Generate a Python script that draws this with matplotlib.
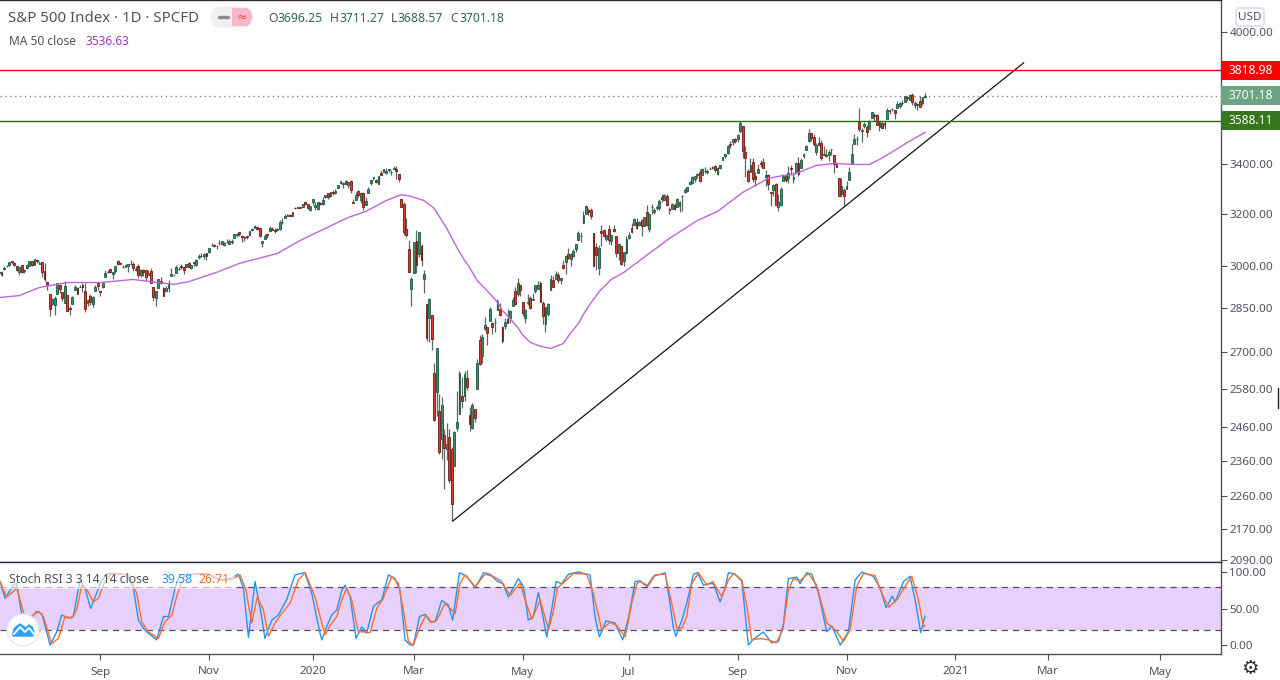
import matplotlib
matplotlib.use("Agg")
import matplotlib.pyplot as plt
from matplotlib.patches import Rectangle, Circle, FancyBboxPatch, Ellipse

plt.rcParams['font.family'] = ['Noto Sans', 'DejaVu Sans']

# daily bars, 8 Jul 2019 to 16 Dec 2020, one line per month
opens = [
	2980,2966,2989,2999,3003,3018,3012,3000,2979,3004,2982,2994,3000,3019,3004,3023,3008,3017,
	2981,2943,2899,2862,2859,2897,2931,2907,2865,2895,2849,2864,2913,2919,2923,2930,2911,2866,2893,2862,2911,2938,
	2909,2924,2960,2980,2989,2971,2981,3019,3012,2996,2996,3001,3007,3008,2984,3002,2968,2985,2985,2967,
	2983,2925,2885,2919,2944,2920,2911,2919,2963,2966,2974,2989,3001,2997,2997,3011,2994,3014,3004,3033,3036,3039,3047,
	3051,3078,3080,3075,3087,3081,3080,3089,3084,3090,3107,3118,3127,3114,3109,3112,3118,3136,3146,3147,
	3143,3087,3103,3120,3134,3141,3135,3136,3141,3167,3183,3195,3195,3192,3223,3226,3225,3227,3247,3240,3215,
	3245,3226,3218,3241,3238,3267,3281,3271,3285,3283,3303,3323,3321,3330,3316,3333,3248,3255,3289,3256,3282,
	3235,3281,3324,3344,3335,3318,3365,3370,3365,3378,3369,3380,3380,3360,3258,3238,3140,3063,2917,
	2975,3096,3046,3076,2954,2864,2814,2825,2631,2570,2509,2426,2437,2394,2432,2394,2345,2458,2501,2556,2558,2614,
	2499,2459,2515,2578,2738,2685,2777,2782,2805,2796,2799,2843,2846,2784,2787,2810,2813,2855,2909,2900,2931,
	2870,2815,2868,2883,2879,2908,2915,2939,2865,2794,2829,2914,2948,2953,2969,2948,3004,3015,3046,3026,
	3038,3064,3098,3112,3163,3199,3213,3213,3123,3072,2994,3131,3136,3101,3140,3094,3139,3114,3047,3074,3018,3050,
	3106,3144,3156,3166,3154,3176,3152,3205,3142,3226,3208,3224,3224,3268,3254,3271,3218,3219,3235,3227,3231,3270,
	3288,3289,3318,3323,3340,3357,3370,3355,3372,3368,3380,3387,3392,3360,3386,3419,3435,3449,3486,3495,3509,
	3507,3543,3564,3453,3371,3370,3412,3353,3364,3407,3411,3346,3357,3285,3295,3320,3226,3236,3333,3350,3342,
	3385,3339,3367,3408,3384,3434,3459,3500,3534,3515,3453,3493,3493,3439,3439,3439,3464,3441,3404,3342,3277,3293,
	3297,3337,3407,3486,3508,3583,3544,3563,3562,3552,3601,3611,3612,3559,3580,3567,3594,3635,3638,3634,
	3645,3654,3669,3670,3694,3683,3705,3659,3656,3675,3667,3696.25,
]
highs = [
	2981,2981,3002,3003,3014,3017,3015,3002,2996,3005,2990,3006,3019,3017,3028,3025,3018,3017,
	3013,2945,2899,2885,2892,2938,2931,2907,2944,2895,2856,2893,2932,2923,2931,2939,2939,2880,2899,2890,2930,2941,
	2914,2938,2985,2985,2989,2979,3000,3021,3017,3003,3006,3007,3022,3017,2999,3007,2990,2988,2987,2984,
	2992,2925,2911,2953,2959,2925,2929,2949,2993,2972,3003,2998,3008,2998,3007,3014,3005,3016,3027,3044,3047,3050,3047,
	3066,3085,3084,3079,3098,3094,3089,3103,3102,3103,3121,3124,3128,3119,3112,3113,3133,3143,3154,3150,
	3145,3094,3120,3120,3150,3149,3143,3143,3176,3182,3198,3198,3199,3208,3226,3228,3226,3240,3248,3240,3231,
	3258,3247,3246,3245,3268,3276,3283,3288,3295,3298,3317,3330,3329,3337,3326,3334,3259,3285,3293,3286,3283,
	3268,3306,3337,3347,3341,3352,3375,3382,3385,3381,3375,3393,3393,3360,3259,3247,3182,3097,2960,
	3091,3137,3130,3084,2985,2863,2883,2825,2661,2711,2563,2553,2454,2472,2454,2400,2449,2572,2638,2616,2635,2641,
	2522,2534,2515,2677,2757,2760,2819,2783,2852,2802,2816,2880,2868,2785,2816,2844,2842,2888,2922,2955,2931,
	2870,2844,2898,2891,2901,2932,2945,2945,2875,2853,2865,2968,2964,2981,2979,2957,3021,3036,3068,3049,
	3062,3082,3131,3128,3212,3233,3223,3223,3123,3088,3079,3154,3142,3121,3156,3118,3155,3115,3086,3074,3054,3112,
	3128,3165,3183,3183,3172,3180,3186,3235,3200,3238,3221,3233,3259,3278,3280,3280,3228,3242,3243,3264,3251,3273,
	3302,3306,3331,3352,3352,3364,3381,3387,3388,3381,3388,3395,3399,3390,3399,3432,3444,3482,3501,3510,3514,
	3528,3588,3564,3479,3380,3425,3425,3368,3402,3419,3429,3376,3362,3285,3320,3323,3279,3306,3360,3361,3393,
	3397,3370,3409,3432,3427,3447,3482,3550,3534,3528,3492,3515,3502,3476,3465,3461,3466,3441,3409,3342,3342,3304,
	3331,3389,3486,3529,3521,3646,3558,3581,3569,3593,3628,3624,3620,3585,3582,3589,3643,3635,3644,3634,
	3678,3670,3683,3699,3698,3709,3712,3678,3665,3698,3695,3711.27,
]
lows = [
	2970,2964,2985,2995,3001,3008,3002,2982,2968,2975,2976,2988,2999,3001,3004,3013,3007,2959,
	2945,2914,2822,2861,2825,2897,2902,2874,2865,2840,2825,2864,2913,2899,2923,2906,2834,2856,2860,2853,2911,2914,
	2891,2921,2960,2976,2973,2953,2975,3003,3006,2992,2996,2979,3003,2982,2982,2957,2961,2963,2945,2967,
	2938,2874,2855,2919,2936,2892,2907,2907,2963,2962,2974,2985,2991,2971,2995,2995,2991,3000,3001,3028,3034,3026,3023,
	3050,3074,3070,3065,3080,3079,3075,3087,3082,3084,3105,3109,3113,3091,3093,3101,3118,3132,3143,3138,
	3110,3070,3103,3104,3134,3135,3123,3134,3138,3158,3183,3191,3191,3192,3217,3222,3223,3227,3234,3217,3212,
	3235,3214,3215,3233,3236,3263,3260,3268,3276,3280,3302,3318,3302,3320,3302,3281,3241,3255,3268,3243,3214,
	3235,3281,3313,3334,3323,3318,3355,3370,3360,3367,3356,3379,3338,3328,3225,3119,3108,2977,2856,
	2976,2976,3034,2999,2902,2735,2734,2707,2478,2493,2381,2367,2281,2364,2296,2192,2345,2450,2500,2520,2541,2575,
	2448,2456,2475,2578,2657,2664,2772,2722,2805,2760,2767,2843,2821,2728,2776,2797,2798,2855,2860,2891,2892,
	2821,2798,2860,2844,2876,2902,2915,2869,2793,2767,2821,2914,2922,2953,2938,2933,2988,2970,3028,2999,
	3032,3052,3098,3090,3163,3197,3193,3181,2999,2984,2966,3076,3108,3094,3083,3078,3127,3033,3024,3005,2999,3044,
	3101,3125,3156,3142,3152,3115,3152,3152,3127,3200,3198,3213,3216,3248,3253,3229,3198,3219,3216,3227,3205,3211,
	3284,3287,3318,3319,3329,3344,3328,3355,3363,3362,3379,3379,3370,3355,3380,3419,3425,3444,3468,3484,3493,
	3494,3535,3427,3349,3329,3370,3329,3310,3364,3389,3385,3310,3293,3230,3270,3233,3209,3229,3333,3327,3323,
	3362,3323,3367,3354,3384,3426,3459,3496,3500,3480,3441,3482,3420,3439,3433,3415,3441,3364,3388,3269,3265,3234,
	3297,3337,3405,3486,3484,3543,3495,3557,3518,3552,3601,3588,3567,3544,3556,3553,3594,3617,3630,3594,
	3645,3645,3658,3670,3678,3679,3660,3644,3634,3647,3659,3688.57,
]
closes = [
	2976,2980,2993,2999,3014,3014,3004,2984,2995,2977,2985,3005,3019,3003,3025,3020,3013,2980,
	2953,2932,2844,2881,2883,2938,2918,2883,2926,2840,2847,2889,2923,2900,2924,2922,2847,2878,2869,2887,2924,2926,
	2906,2937,2976,2978,2978,2979,3000,3009,3007,2997,3005,3006,3006,2992,2991,2966,2984,2977,2961,2976,
	2940,2887,2910,2952,2938,2893,2919,2938,2970,2966,2995,2989,2997,2986,3006,2995,3004,3010,3022,3039,3036,3046,3037,
	3066,3078,3074,3076,3085,3093,3087,3091,3094,3096,3120,3122,3120,3108,3104,3110,3133,3140,3153,3141,
	3113,3094,3113,3117,3145,3135,3132,3142,3169,3169,3191,3192,3191,3205,3221,3224,3223,3240,3240,3221,3231,
	3258,3235,3246,3237,3253,3275,3265,3288,3283,3289,3317,3330,3321,3321,3326,3295,3244,3276,3273,3284,3226,
	3249,3298,3334,3346,3328,3352,3358,3379,3374,3380,3370,3386,3373,3338,3226,3128,3116,2979,2954,
	3090,3003,3130,3024,2972,2747,2882,2741,2481,2711,2386,2529,2398,2409,2305,2237,2447,2475,2630,2541,2627,2585,
	2471,2527,2489,2664,2659,2750,2790,2762,2846,2783,2800,2875,2823,2737,2799,2798,2837,2878,2863,2940,2912,
	2830,2842,2868,2848,2881,2930,2930,2870,2820,2852,2864,2954,2923,2972,2949,2955,2992,3036,3030,3044,
	3056,3081,3123,3112,3194,3232,3207,3190,3002,3041,3067,3125,3114,3117,3098,3118,3131,3050,3084,3009,3053,3100,
	3116,3130,3179,3145,3169,3152,3185,3155,3197,3227,3215,3225,3251,3257,3276,3236,3215,3239,3218,3258,3246,3271,
	3295,3306,3327,3349,3351,3360,3333,3380,3373,3373,3382,3389,3375,3385,3397,3431,3443,3478,3484,3508,3500,
	3527,3580,3455,3426,3331,3398,3339,3340,3383,3401,3385,3357,3319,3281,3315,3236,3246,3298,3351,3335,3363,
	3380,3348,3408,3360,3419,3446,3477,3534,3511,3488,3483,3483,3426,3443,3436,3453,3465,3400,3390,3271,3310,3270,
	3310,3370,3443,3510,3509,3550,3545,3572,3537,3585,3627,3610,3568,3582,3558,3577,3635,3629,3638,3622,
	3662,3669,3666,3699,3692,3702,3673,3668,3663,3647,3695,3701.18,
]

ma_bars = [0,8,16,27,40,53,60,69,75,86,95,110,119,138,145,153,159,162.5,168,172,174.3,177,179,181,183.4,186,189,191.7,194,196.8,199,202,205,207,210,213.9,218,223,225.7,229,231.2,234,237.5,242,247,256,265,276,284,294,304,310,314,323,330,338,344,348,352,359,366]
ma_vals = [2886,2893,2922,2940,2940,2951,2943,2933,2943,2977,3010,3047,3096,3185,3209,3252,3276,3270,3252,3221,3185,3142,3105,3070,3030,2995,2947,2922,2900,2872,2840,2812,2782,2756,2731,2718,2711,2727,2760,2795,2830,2868,2910,2951,2977,3040,3104,3173,3209,3285,3342,3354,3358,3396,3404,3400,3400,3421,3446,3493,3536.63]

k_bars = [0.4,2.4,5.7,7,9,11.6,13.6,14.9,16.9,20.2,22.8,24.8,27.4,29.4,32,34,36.2,38.6,40.6,43.2,45.9,50.5,53.1,55.1,57.7,62.3,65,67,69.6,71.5,76.8,82.1,87.4,91.3,94.6,96.6,98.6,101.2,103.8,105.1,107.8,110.4,113.7,117,120.9,123.6,126.9,
	127.6,129.5,131.5,133.5,135.5,136.8,138.8,141.1,143.4,145.3,148,151.3,153.9,156.5,158.5,160.5,162.5,163.8,166.2,168.4,170.4,172.4,175,177.6,179.3,182,184.9,188.2,191.5,194.1,196.7,199.1,201.3,205.3,207.3,209.2,211.2,213.2,216.5,218.5,220.2,222.4,225.1,229,233.6,235.6,237.3,239.9,243.5,246.5,248.8,251.4,253.4,
	256,258.7,263.3,264.6,266.6,267.5,269.9,271.8,274.5,276.1,278.4,280.4,282.4,285,287,288.3,291,293.6,296.2,298.2,302.1,305.4,308.1,310.1,312,315.3,316.6,319.3,321.3,323.9,327.2,329.2,332.5,335.7,338.4,341,345.6,348.3,350.6,353.1,354.2,357.5,360.1,362.1,364.3,366]
k_vals = [87,64,82,84.5,41,30,41,46,43,0,18,41,37,39,89,78,50,71,89,98,98,96,78,34,20,7,39,39,78,96,97,98,89,91,97,78,10.5,87,39,9,34,41,62,96,99,71,16,
	7,25,41,48,75,82,66,9,25,16,53,62,96,91,75,7,0,0,39,42,32,32,61,55,34,99,94,78,99,97,88,84,66,91,80,34,39,72,11,50,87,84,97,100,96,39,11,33,30,7,37,87,88,
	80,94,99,71,23,12,34,57,97,99,82,84,84,59,78,99,97,87,0,8,18,3,5,30,91,93,84,99,97,71,18,26,0,18,89,100,94,78,51,67,59,87,94,62,17,39.58]
d_bars = [0.4,3,5,7,8.3,10.3,13.6,15.6,17.5,20.8,23.5,26.1,28.7,30.7,32.7,34.9,37.3,39.3,41.5,43.9,46.5,51.1,54.4,56.4,59,63,65.6,68.3,70.2,72.9,77.5,82.7,88,92,95.3,97.6,99.9,102.1,104.5,106.5,109.1,111.7,115,118.3,121,124.9,126.9,
	128.9,130.9,133.5,135.5,137.4,139.4,142,144,146.7,149.3,151.9,155.2,157.9,159.8,161.8,163.8,166.4,168.8,171,173,176.3,178.9,180.3,182.2,184.2,188.2,192.1,195.4,198.7,202,206,207.9,210.6,213.9,217.2,219.1,220.7,223.7,227,232.3,234.9,238.2,241.5,244.2,247.5,250.1,252.1,253.4,
	256.7,259.3,263.3,265.9,267.9,269.9,271.8,273.8,276.5,279.8,282.1,285.7,288.3,290.3,293.6,295.6,297.5,300.8,304.1,307.2,309.8,312,314,316.6,319.9,323.2,327.2,330.5,333.8,336.4,339,341.7,346.3,348.9,351.6,354.9,358.1,360.8,363.4,365.4,366]
d_vals = [87,66,71,78,62,37,41,46,39,2,9,39,37,48,82,75,59,64,84,96,98,96,71,32,18,9,32,41,66,94,97,97,88,90,96,75,30,66,48,12,30,43,57,89,99,66,39,
	14,27,39,62,78,62,18,18,17,50,64,94,84,48,5,0,25,41,31,34,57,48,43,84,96,80,97,94,87,68,85,62,35,62,21,46,78,87,98,97,71,21,31,27,11,57,84,87,
	81,96,97,57,23,23,39,84,99,82,87,66,89,98,89,53,7,9,7,3,21,75,91,88,98,82,30,21,5,21,80,98,95,71,52,62,80,94,62,25,26.71]

# drawn trend line and the two levels
trend_bars = [179.4, 405]
trend_vals = [2192, 3853]
level_red = 3818.98
level_green = 3588.11
last_close = 3701.18

price_ticks = [4000,3400,3200,3000,2850,2700,2580,2460,2360,2260,2170,2090]
stoch_ticks = [100,50,0]
month_bars = [40,83,124,164,207,249,292,335,378,414.6,458.9]
month_names = ["Sep","Nov","2020","Mar","May","Jul","Sep","Nov","2021","Mar","May"]

TEXT = "#50535e"
GREEN_BODY = "#3f8a68"
GREEN_EDGE = "#1d5a40"
RED_BODY = "#e0392b"
RED_EDGE = "#6e1a14"

fig = plt.figure(figsize=(12.8, 6.8), dpi=100, facecolor="white")
ax = fig.add_axes([0, 1 - 562/680, 1221/1280, 562/680])
sub = fig.add_axes([0, 26/680, 1221/1280, 92/680])
over = fig.add_axes([0, 0, 1, 1], facecolor="none")
over.set_xlim(0, 1280)
over.set_ylim(680, 0)
over.axis("off")

ax.set_yscale("log")
ax.set_xlim(0.395, 483)
ax.set_ylim(2084, 4163)
sub.set_xlim(0.395, 483)
sub.set_ylim(-12.3, 113.7)

bars = list(range(len(closes)))
ax.vlines(bars, lows, highs, color="#5f6663", lw=0.9, zorder=2)
for i in bars:
	up = closes[i] >= opens[i]
	low_end = min(opens[i], closes[i])
	size = max(abs(closes[i] - opens[i]), 1.5)
	ax.bar(i, size, bottom=low_end, width=0.72,
		color=GREEN_BODY if up else RED_BODY,
		edgecolor=GREEN_EDGE if up else RED_EDGE, lw=0.6, zorder=3)

ax.plot(ma_bars, ma_vals, color="#bd66d6", lw=1.0, zorder=4)
ax.plot(trend_bars, trend_vals, color="#111111", lw=0.9, zorder=5)
ax.axhline(level_red, color="#ff0000", lw=1.0, zorder=5)
ax.axhline(level_green, color="#2d6a12", lw=1.0, zorder=5)
ax.axhline(last_close, color="#6b8f7c", lw=1.0, ls=(0, (1, 2.5)), zorder=1)

ax.minorticks_off()
ax.yaxis.tick_right()
ax.set_yticks(price_ticks)
ax.set_yticklabels(["%.2f" % p for p in price_ticks], color=TEXT, fontsize=8.4)
ax.tick_params(axis="y", which="major", length=4, width=0.8, color=TEXT, pad=2)
ax.tick_params(axis="y", which="minor", length=0)
ax.set_xticks([])

sub.axhspan(20, 80, color="#e8d0fc", lw=0, zorder=1)
sub.axhline(80, color="#5b4a66", lw=0.9, ls=(0, (5, 4)), zorder=2)
sub.axhline(20, color="#5b4a66", lw=0.9, ls=(0, (5, 4)), zorder=2)
sub.plot(k_bars, k_vals, color="#2196f3", lw=1.0, zorder=3)
sub.plot(d_bars, d_vals, color="#ff6d29", lw=1.0, zorder=3)
sub.yaxis.tick_right()
sub.set_yticks(stoch_ticks)
sub.set_yticklabels(["%.2f" % v for v in stoch_ticks], color=TEXT, fontsize=8.4)
sub.tick_params(axis="y", length=4, width=0.8, color=TEXT, pad=2)
sub.set_xticks(month_bars)
sub.set_xticklabels(month_names, color=TEXT, fontsize=8.4)
sub.tick_params(axis="x", length=4, width=0.8, color=TEXT, pad=5)
for lab, name in zip(sub.get_xticklabels(), month_names):
	if name[0] == "2":
		lab.set_fontweight("bold")

for a in (ax, sub):
	a.spines["left"].set_visible(False)
	a.spines["bottom"].set_color(TEXT)
	a.spines["top"].set_color("#2a2e39")
	a.spines["right"].set_color(TEXT)
	for s in a.spines.values():
		s.set_linewidth(1.0)
fig.canvas.draw()

def price_y(p):
	return 680 - ax.transData.transform((0, p))[1]

# price badges
for p, col in [(level_red, "#ff0000"), (last_close, "#6ba583"), (level_green, "#38761d")]:
	y = price_y(p)
	over.add_patch(Rectangle((1221, y - 9.5), 59, 19, facecolor=col, edgecolor="none", zorder=6))
	over.text(1250.5, y, "%.2f" % p, color="white", fontsize=8.6, fontweight="bold", ha="center", va="center", zorder=7)

# header
over.text(8, 18, "S&P 500 Index · 1D · SPCFD", color=TEXT, fontsize=10.8, va="center")
over.add_patch(FancyBboxPatch((216, 12), 32, 10, boxstyle="round,pad=0,rounding_size=5", mutation_aspect=1,
	facecolor="#f0f0f0", edgecolor="#f0f0f0", lw=8, zorder=2))
over.add_patch(Rectangle((232, 8), 16, 18, facecolor="#f5b7ca", edgecolor="none", zorder=3))
over.add_patch(Ellipse((245, 17), 14, 18, facecolor="#f5b7ca", edgecolor="none", zorder=3))
over.plot([219, 228], [17, 17], color="#8a8d94", lw=2.5, solid_capstyle="round", zorder=4)
over.text(242, 17.5, "≈", color="#ef5350", fontsize=9, ha="center", va="center", zorder=4)
for x, letter, value in [(268, "O", "3696.25"), (330, "H", "3711.27"), (391, "L", "3688.57"), (450, "C", "3701.18")]:
	over.text(x, 18, letter, color=TEXT, fontsize=8.8, va="center")
	over.text(x + (9 if letter != "L" else 7), 18, value, color="#2e6b4f", fontsize=8.8, va="center")
over.text(9, 41.5, "MA 50 close", color=TEXT, fontsize=8.6, va="center")
over.text(85, 41.5, "3536.63", color="#a832c8", fontsize=8.6, va="center")

over.add_patch(FancyBboxPatch((1236, 8), 28, 18, boxstyle="round,pad=0,rounding_size=3", facecolor="white",
	edgecolor="#d6d8de", lw=1.0, zorder=3))
over.text(1250, 17.5, "USD", color=TEXT, fontsize=8.4, ha="center", va="center", zorder=4)

# stochastic legend on a faint white strip
over.add_patch(Rectangle((3, 570), 232, 19, facecolor="white", alpha=0.6, edgecolor="none", zorder=2))
over.text(9, 579.5, "Stoch RSI 3 3 14 14 close", color=TEXT, fontsize=8.8, va="center", zorder=3)
over.text(161, 579.5, "39.58", color="#2196f3", fontsize=8.8, va="center", zorder=3)
over.text(198, 579.5, "26.71", color="#ff6d29", fontsize=8.8, va="center", zorder=3)

# logo badge
over.add_patch(Circle((23, 630), 16, facecolor="white", edgecolor="#e4e6ea", lw=1.0, zorder=6))
over.fill([13, 14, 17, 20, 23, 26, 29, 32, 34, 33, 13], [634, 629, 626, 624, 626, 628, 625, 627, 632, 636, 636],
	color="#2ea0f5", zorder=7)
over.plot([14, 20, 25, 29, 34], [634, 627, 632, 628, 634], color="white", lw=1.3, zorder=8)

# settings gear and the mouse pointer
over.text(1250, 669, "⚙", color="#2a2e39", fontsize=14, ha="center", va="center", family="DejaVu Sans")
over.plot([1278, 1278], [388, 408], color="#222222", lw=1.0, zorder=8)

fig.savefig("out.png", dpi=100, facecolor="white")
